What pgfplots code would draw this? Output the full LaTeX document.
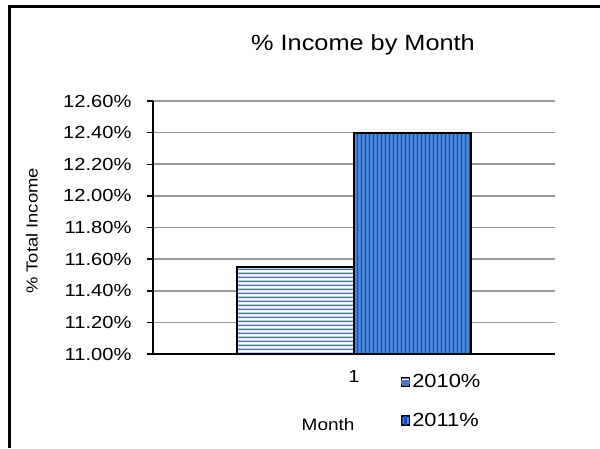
\documentclass[border=0pt]{standalone}
\usepackage{pgfplots}
\pgfplotsset{compat=1.18}
\usetikzlibrary{patterns}
\usepackage{fontspec}
\setmainfont{Liberation Sans}[FakeStretch=1.15]
\definecolor{stripeA}{HTML}{4F72C0}
\definecolor{fillB}{HTML}{4A8AE0}
\definecolor{stripeB}{HTML}{1C4BA8}
\pgfdeclarepatternformonly{hstripes}{\pgfpointorigin}{\pgfqpoint{200pt}{3.6pt}}{\pgfqpoint{200pt}{3.6pt}}{%
  \pgfpathrectangle{\pgfqpoint{0pt}{1pt}}{\pgfqpoint{200pt}{1.5pt}}\pgfusepath{fill}}
\pgfdeclarepatternformonly{vstripes}{\pgfpointorigin}{\pgfqpoint{4pt}{300pt}}{\pgfqpoint{4pt}{300pt}}{%
  \pgfpathrectangle{\pgfqpoint{1pt}{0pt}}{\pgfqpoint{1.7pt}{300pt}}\pgfusepath{fill}}
\begin{document}
\begin{tikzpicture}[x=1pt,y=1pt]
\useasboundingbox (0,0) rectangle (600,448);
\draw[line width=3pt] (9,0) -- (9,441.5) -- (600,441.5);
\node[font=\fontsize{22}{25}\selectfont] at (363,403) {\% Income by Month};
\node[rotate=90,font=\fontsize{16}{19}\selectfont] at (32,217) {\% Total Income};
\node[font=\fontsize{16.5}{20}\selectfont, anchor=east] at (358,23) {Month};
\begin{axis}[
  at={(153pt,94pt)}, anchor=south west,
  scale only axis, width=402pt, height=253pt,
  xmin=-0.5, xmax=0.5, ymin=11, ymax=12.6,
  axis x line*=bottom, axis y line*=left,
  axis line style={line width=2pt, black},
  ytick={11,11.2,11.4,11.6,11.8,12,12.2,12.4,12.6},
  yticklabels={11.00\%,11.20\%,11.40\%,11.60\%,11.80\%,12.00\%,12.20\%,12.40\%,12.60\%},
  ymajorgrids, grid style={line width=1.6pt, gray!80},
  tick align=outside, major tick length=6pt,
  tick style={line width=1.5pt, black},
  xtick={0}, xticklabels={1},
  xtick style={draw=none},
  extra x ticks={-0.5,0.5}, extra x tick labels={},
  extra x tick style={grid=none, tick style={line width=1.5pt, black}, major tick length=7pt},
  ticklabel style={font=\fontsize{17.5}{20}\selectfont},
  yticklabel style={xshift=-12pt},
  xticklabel style={anchor=center, yshift=-16pt},
  clip=false,
  legend style={at={(0.616,-0.072)}, anchor=north west, draw=none, fill=none,
    font=\fontsize{19}{21}\selectfont, row sep=20pt, inner sep=0pt,
    /tikz/every even column/.append style={column sep=1pt}},
  legend cell align=left,
]
\addplot[ybar, bar width=0.291, bar shift=0, line width=2pt, draw=black, fill=white,
  postaction={pattern=hstripes, pattern color=stripeA},
  legend image code/.code={\draw[line width=1.5pt, fill=white] (0pt,-4.5pt) rectangle (8pt,4.5pt); \fill[stripeA] (0.7pt,-0.8pt) rectangle (7.3pt,0.8pt);}]
  coordinates {(-0.1455,11.55)};
\addlegendentry{2010\%}
\addplot[ybar, bar width=0.291, bar shift=0, line width=2pt, draw=black, fill=fillB,
  postaction={pattern=vstripes, pattern color=stripeB},
  legend image code/.code={\draw[line width=1.5pt, fill=fillB] (0pt,-4.5pt) rectangle (8pt,4.5pt); \fill[stripeB] (3.2pt,-3.8pt) rectangle (4.8pt,3.8pt);}]
  coordinates {(0.1455,12.40)};
\addlegendentry{2011\%}
\end{axis}
\end{tikzpicture}
\end{document}
